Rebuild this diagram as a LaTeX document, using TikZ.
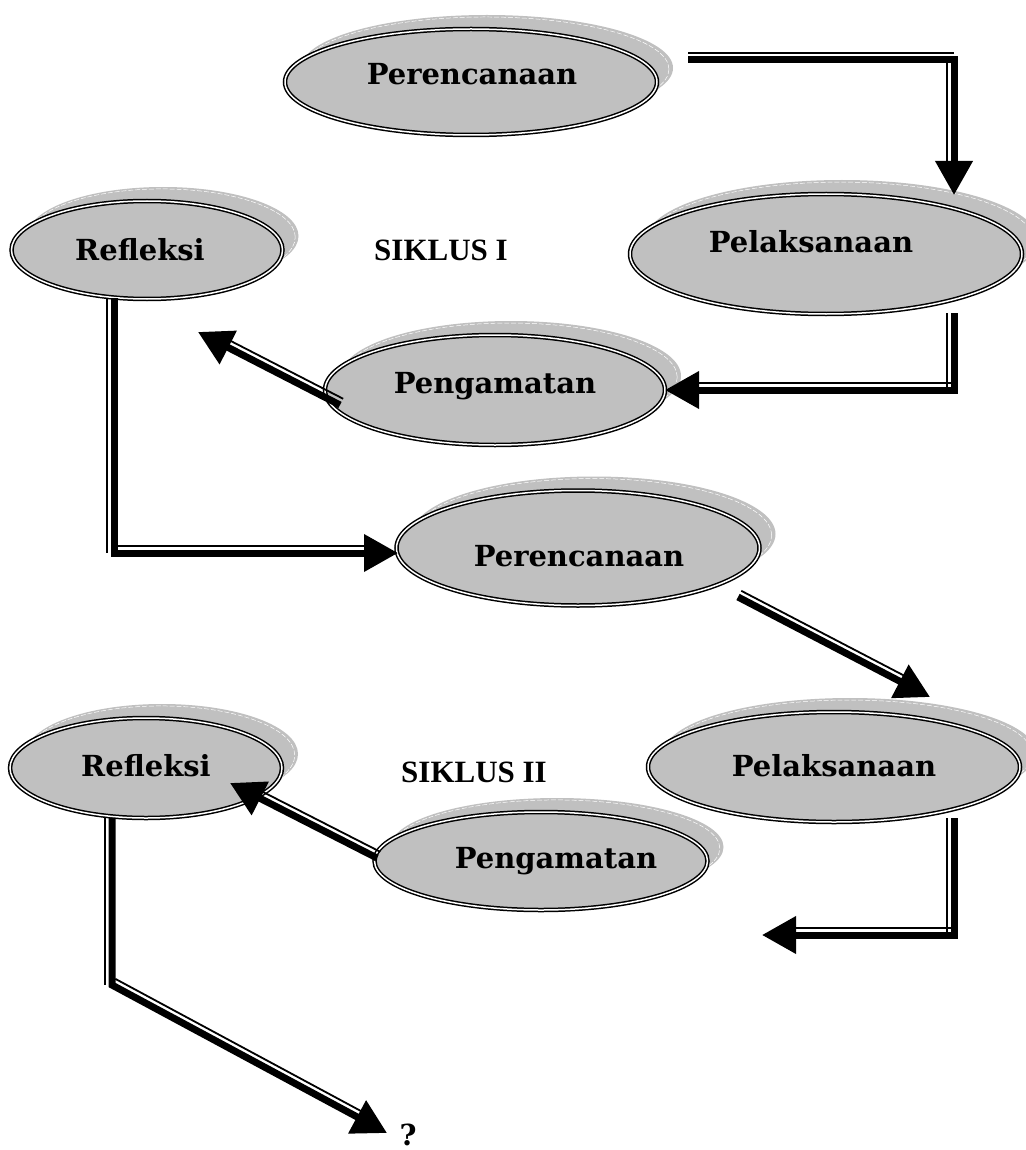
\documentclass[tikz,border=0pt]{standalone}
\usepackage{fontspec}
\setmainfont{Liberation Serif}
\newfontfamily\lblfam{DejaVu Serif}
\newfontfamily\sikfam{Liberation Serif}
\usetikzlibrary{arrows.meta,calc,shapes.geometric,shadows}
\definecolor{fillgray}{HTML}{C0C0C0}
\newcommand\lblfont{\lblfam\bfseries\fontsize{29}{34}\selectfont}
\newcommand\sikfont{\sikfam\bfseries\fontsize{31}{36}\selectfont}
\newcommand\thinseg[5]{\draw[thn,#5] ($(#1)!7pt!#3:(#2)$) -- ($(#2)!7pt!#4:(#1)$);}
\begin{document}
\begin{tikzpicture}[x=1pt,y=-1pt,
  ell/.style={ellipse, draw=black, double=white, line width=1.5pt, double distance=1.5pt,
    fill=fillgray, inner sep=0pt,
    general shadow={fill=fillgray, shadow xshift=16pt, shadow yshift=14pt},
    general shadow={draw=white, dash pattern=on 5pt off 2pt, line width=0.5pt,
      shadow xshift=15pt, shadow yshift=13pt, shadow scale=0.985}},
  lbl/.style={font=\lblfont, inner sep=0pt, anchor=base},
  sik/.style={font=\sikfont, inner sep=0pt, anchor=base},
  thk/.style={line width=7pt, -{Triangle[length=34pt,width=36pt]}},
  thn/.style={line width=1.8pt}]
\fill[white] (0,0) rectangle (1025,1150);
\useasboundingbox (0,0) rectangle (1025,1150);

% ellipses
\node[ell, minimum width=372pt, minimum height=106pt] (p1) at (471,82) {};
\node[ell, minimum width=392pt, minimum height=120pt] (l1) at (826,254) {};
\node[ell, minimum width=271pt, minimum height=98pt] (r1) at (147,250) {};
\node[ell, minimum width=340pt, minimum height=110pt] (g1) at (495,390) {};
\node[ell, minimum width=363pt, minimum height=115pt] (p2) at (578,548) {};
\node[ell, minimum width=372pt, minimum height=110pt] (l2) at (834,767) {};
\node[ell, minimum width=272pt, minimum height=100pt] (r2) at (146,768) {};
\node[ell, minimum width=333pt, minimum height=98pt] (g2) at (541,861) {};

% labels
\node[lbl] (p1t) at (472,85) {Perencanaan};
\node[lbl] (l1t) at (811,253) {Pelaksanaan};
\node[lbl] (r1t) at (140,261) {Refleksi};
\node[lbl] (g1t) at (495,393) {Pengamatan};
\node[lbl] (p2t) at (579,566) {Perencanaan};
\node[lbl] (l2t) at (834,776) {Pelaksanaan};
\node[lbl] (r2t) at (146,776) {Refleksi};
\node[lbl] (g2t) at (556,868) {Pengamatan};
\node[sik] (s1) at (441,261) {SIKLUS I};
\node[sik] (s2) at (474,782) {SIKLUS II};
\node[lbl] (q) at (408,1145) {?};

% connector points
\coordinate (a1s) at (688,60);  \coordinate (a1c) at (954,60);  \coordinate (a1e) at (954,195);
\coordinate (a2s) at (954,313); \coordinate (a2c) at (954,390); \coordinate (a2e) at (665,390);
\coordinate (a3s) at (340,405); \coordinate (a3e) at (198,332);
\coordinate (a4s) at (114,298); \coordinate (a4c) at (114,553); \coordinate (a4e) at (398,553);
\coordinate (a5s) at (738,597); \coordinate (a5e) at (930,697);
\coordinate (a6s) at (954,818); \coordinate (a6c) at (954,935); \coordinate (a6e) at (762,935);
\coordinate (a7s) at (377,858); \coordinate (a7e) at (230,783);
\coordinate (a8s) at (112,818); \coordinate (a8c) at (112,985); \coordinate (a8e) at (387,1133);

% thick parts
\draw[thk] (a1s) -- (a1c) -- (a1e);
\draw[thk] (a2s) -- (a2c) -- (a2e);
\draw[thk] (a3s) -- (a3e);
\draw[thk] (a4s) -- (a4c) -- (a4e);
\draw[thk] (a5s) -- (a5e);
\draw[thk] (a6s) -- (a6c) -- (a6e);
\draw[thk] (a7s) -- (a7e);
\draw[thk] (a8s) -- (a8c) -- (a8e);

% thin parts
\thinseg{a1s}{a1c}{90}{-90}{}
\thinseg{a1c}{a1e}{-90}{90}{shorten >=30pt}
\thinseg{a2s}{a2c}{-90}{90}{}
\thinseg{a2c}{a2e}{-90}{90}{shorten >=30pt}
\thinseg{a3s}{a3e}{-90}{90}{shorten >=30pt}
\thinseg{a4s}{a4c}{-90}{90}{}
\thinseg{a4c}{a4e}{90}{-90}{shorten >=30pt}
\thinseg{a5s}{a5e}{90}{-90}{shorten >=30pt}
\thinseg{a6s}{a6c}{-90}{90}{}
\thinseg{a6c}{a6e}{-90}{90}{shorten >=30pt}
\thinseg{a7s}{a7e}{-90}{90}{shorten >=30pt}
\thinseg{a8s}{a8c}{-90}{90}{}
\thinseg{a8c}{a8e}{90}{-90}{shorten >=30pt}
\end{tikzpicture}
\end{document}
